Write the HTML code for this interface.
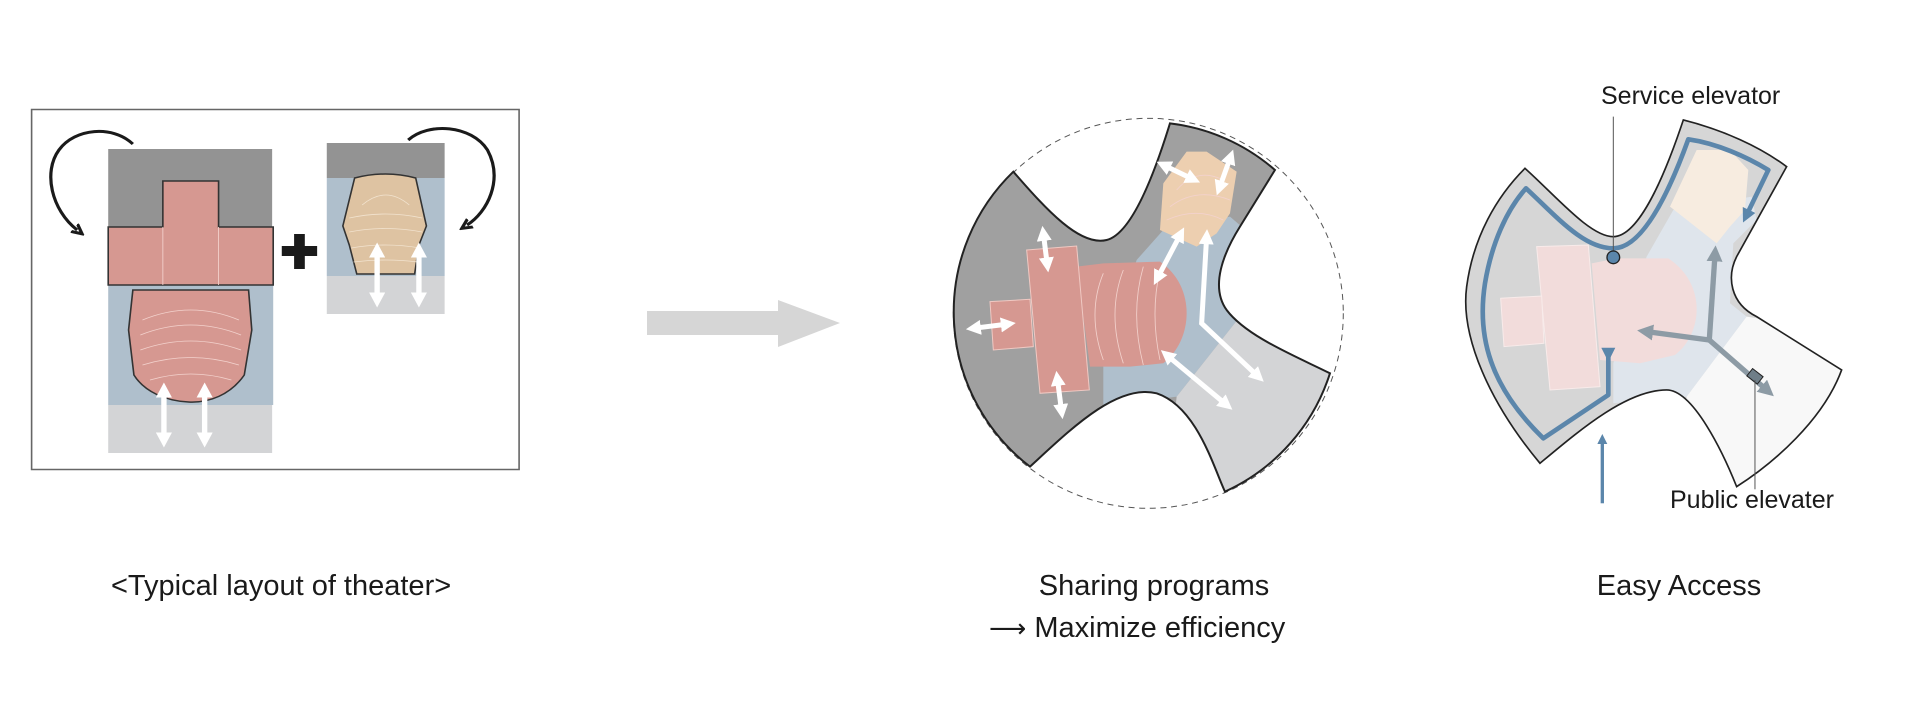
<!DOCTYPE html>
<html><head><meta charset="utf-8"><style>
html,body{margin:0;padding:0;background:#fff;}
svg{display:block;}
text{font-family:"Liberation Sans",sans-serif;fill:#1a1a1a;}
</style></head><body>
<svg width="1929" height="702" viewBox="0 0 1929 702" xmlns="http://www.w3.org/2000/svg">
<defs>
<marker id="wh" viewBox="0 0 10 10" refX="5" refY="5" markerWidth="3" markerHeight="3" orient="auto-start-reverse"><path d="M0,0 L10,5 L0,10 Z" fill="#fff"/></marker>
<marker id="bk" viewBox="0 0 10 10" refX="3" refY="5" markerWidth="4" markerHeight="4" orient="auto"><path d="M0,1 L8,5 L0,9" fill="none" stroke="#1a1a1a" stroke-width="2.5"/></marker>
<marker id="gh" viewBox="0 0 10 10" refX="4" refY="5" markerWidth="3" markerHeight="3" orient="auto"><path d="M0,0 L10,5 L0,10 Z" fill="#8d9ba5"/></marker>
<marker id="bh" viewBox="0 0 10 10" refX="4" refY="5" markerWidth="3" markerHeight="3" orient="auto"><path d="M0,0 L10,5 L0,10 Z" fill="#5b86ab"/></marker>
<clipPath id="cm"><path d="M250,215 C350,330 450,440 530,420 C610,400 680,200 720,70 A585,585 0 0 1 1035,210 L930,380 C880,460 840,560 890,630 C950,710 1100,770 1200,820 A585,585 0 0 1 885,1175 C850,1100 800,920 680,880 C560,850 420,990 300,1100 A585,585 0 0 1 250,215 Z"/></clipPath>
<clipPath id="cr"><path d="M300,1180 C150,1000 60,800 80,650 C100,500 170,380 255,295 C350,380 450,500 520,500 C600,500 680,300 730,150 C850,180 960,230 1040,290 L890,560 C860,620 870,700 950,740 L1205,900 C1150,1050 1000,1180 890,1250 C850,1150 760,960 680,960 C560,960 420,1080 300,1180 Z"/></clipPath>
</defs>

<!-- LEFT PANEL -->
<g transform="scale(1.0714,1)">
<rect x="29.5" y="109.5" width="455" height="360" fill="none" stroke="#666" stroke-width="1.5"/>
<rect x="101" y="149" width="153" height="78" fill="#939393"/>
<rect x="101" y="285" width="154" height="120" fill="#afbfcc"/>
<rect x="101" y="405" width="153" height="48" fill="#d3d4d6"/>
<path d="M152,181 H204 V227 H255 V285 H101 V227 H152 Z" fill="#d69891" stroke="#333" stroke-width="1.5"/>
<path d="M124,290 L232,290 L235,330 L228,375 C215,395 195,403 176,402 C155,401 135,392 125,375 L120,330 Z" fill="#d69891" stroke="#333" stroke-width="1.5"/>
<g stroke="#f3d2cd" stroke-width="0.8" fill="none">
<path d="M133,320 Q178,300 223,320"/><path d="M131,335 Q178,315 225,335"/><path d="M131,350 Q178,332 225,350"/><path d="M133,365 Q178,350 223,365"/><path d="M140,380 Q178,368 216,380"/>
<line x1="152" y1="227" x2="152" y2="285"/><line x1="204" y1="227" x2="204" y2="285"/>
</g>
<line x1="153" y1="390" x2="153" y2="440" stroke="#fff" stroke-width="5" marker-start="url(#wh)" marker-end="url(#wh)"/>
<line x1="191" y1="390" x2="191" y2="440" stroke="#fff" stroke-width="5" marker-start="url(#wh)" marker-end="url(#wh)"/>
<path d="M263,251 H296 M279.5,234 V269" stroke="#1a1a1a" stroke-width="10"/>
<rect x="305" y="143" width="110" height="35" fill="#939393"/>
<rect x="305" y="178" width="110" height="98" fill="#afbfcc"/>
<rect x="305" y="276" width="110" height="38" fill="#d3d4d6"/>
<path d="M331,178 Q360,170 388,178 L398,226 L391,245 L387,274 L333,274 L326,245 L320,226 Z" fill="#dec3a2" stroke="#333" stroke-width="1.5"/>
<g stroke="#f2e3cf" stroke-width="0.8" fill="none">
<path d="M338,205 Q360,185 382,205"/><path d="M326,218 Q360,210 394,218"/><path d="M326,232 Q360,225 394,232"/><path d="M328,248 Q360,242 392,248"/><path d="M330,262 Q360,258 390,262"/>
</g>
<line x1="352" y1="250" x2="352" y2="300" stroke="#fff" stroke-width="5" marker-start="url(#wh)" marker-end="url(#wh)"/>
<line x1="391" y1="250" x2="391" y2="300" stroke="#fff" stroke-width="5" marker-start="url(#wh)" marker-end="url(#wh)"/>
<path d="M124,144 C105,125 70,128 55,150 C40,172 48,210 72,230" fill="none" stroke="#1a1a1a" stroke-width="3" marker-end="url(#bk)"/>
<path d="M381,140 C400,122 440,125 455,150 C470,180 455,212 436,225" fill="none" stroke="#1a1a1a" stroke-width="3" marker-end="url(#bk)"/>
</g>
<text x="111" y="595" font-size="29">&lt;Typical layout of theater&gt;</text>

<!-- BIG ARROW -->
<path d="M647,311 H778 V300 L840,323 L778,347 V335 H647 Z" fill="#d6d6d6"/>

<!-- MIDDLE -->
<g transform="translate(930,100) scale(0.3333)">
<circle cx="655" cy="640" r="585" fill="none" stroke="#555" stroke-width="3" stroke-dasharray="18,14"/>
<g clip-path="url(#cm)">
<rect x="0" y="0" width="1400" height="1300" fill="#a0a0a0"/>
<polygon points="620,480 700,390 900,350 935,380 880,470 870,600 930,650 740,890 520,920 520,800" fill="#afbfcc"/>
<polygon points="930,650 1400,700 1400,1300 700,1300 740,890" fill="#d3d4d6"/>
</g>
<path d="M250,215 C350,330 450,440 530,420 C610,400 680,200 720,70 A585,585 0 0 1 1035,210 L930,380 C880,460 840,560 890,630 C950,710 1100,770 1200,820 A585,585 0 0 1 885,1175 C850,1100 800,920 680,880 C560,850 420,990 300,1100 A585,585 0 0 1 250,215 Z" fill="none" stroke="#222" stroke-width="6"/>
<polygon points="700,250 770,155 830,155 920,215 900,340 860,400 800,440 690,390" fill="#edcfb0"/>
<path d="M440,500 L520,490 L690,485 C800,560 790,720 700,790 L600,800 L480,800 Z" fill="#d69891"/>
<polygon points="290,450 440,438 478,870 330,880" fill="#d69891" stroke="#f0c9c3" stroke-width="3"/>
<polygon points="180,605 300,598 310,740 190,750" fill="#d69891" stroke="#f0c9c3" stroke-width="3"/>
<g stroke="#f3d2cd" stroke-width="2.5" fill="none">
<path d="M520,520 Q470,640 520,780"/><path d="M580,510 Q530,640 580,790"/><path d="M640,500 Q600,640 640,795"/><path d="M690,510 Q660,640 690,780"/>
<path d="M740,270 Q800,200 880,240"/><path d="M720,320 Q800,260 900,300"/><path d="M710,360 Q800,320 880,360"/>
</g>
<g stroke="#fff" stroke-width="15" marker-start="url(#wh)" marker-end="url(#wh)">
<line x1="340" y1="400" x2="352" y2="495"/>
<line x1="130" y1="685" x2="235" y2="672"/>
<line x1="382" y1="835" x2="395" y2="935"/>
<line x1="700" y1="195" x2="790" y2="238"/>
<line x1="902" y1="170" x2="868" y2="265"/>
<line x1="752" y1="402" x2="682" y2="535"/>
<line x1="710" y1="765" x2="890" y2="915"/>
</g>
<path d="M830,410 L815,670 L985,830" fill="none" stroke="#fff" stroke-width="15" marker-start="url(#wh)" marker-end="url(#wh)"/>
</g>
<text x="1154" y="595" font-size="29" text-anchor="middle">Sharing programs</text>
<text x="989" y="637" font-size="29"><tspan font-family="DejaVu Sans" font-size="26">⟶</tspan> Maximize efficiency</text>

<!-- RIGHT -->
<g transform="translate(1440,70) scale(0.3333)">
<g clip-path="url(#cr)">
<rect x="0" y="0" width="1300" height="1300" fill="#d6d6d6"/>
<polygon points="620,560 700,420 935,380 950,450 880,520 870,700 920,740 740,980 520,1000 520,880" fill="#dfe5ec"/>
<polygon points="920,740 1300,800 1300,1300 700,1300 740,980" fill="#f8f8f8"/>
</g>
<path d="M300,1180 C150,1000 60,800 80,650 C100,500 170,380 255,295 C350,380 450,500 520,500 C600,500 680,300 730,150 C850,180 960,230 1040,290 L890,560 C860,620 870,700 950,740 L1205,900 C1150,1050 1000,1180 890,1250 C850,1150 760,960 680,960 C560,960 420,1080 300,1180 Z" fill="none" stroke="#222" stroke-width="5"/>
<polygon points="690,410 770,240 870,240 925,300 915,420 870,470 830,520" fill="#f7ece0"/>
<path d="M455,580 L530,565 L685,565 C800,640 790,790 705,855 L600,880 L480,870 Z" fill="#f2dcdb"/>
<polygon points="290,530 445,525 480,950 330,960" fill="#f2dcdb" stroke="#f8ebea" stroke-width="3"/>
<polygon points="182,685 305,678 312,820 192,830" fill="#f2dcdb" stroke="#f8ebea" stroke-width="3"/>
<path d="M505,850 L505,975 L310,1105 C150,950 110,800 135,640 C155,520 200,420 258,355 C350,440 430,535 520,535 C610,535 690,360 745,208 C830,220 920,260 985,300 L920,435" fill="none" stroke="#5b86ab" stroke-width="14" stroke-linejoin="round" marker-start="url(#bh)" marker-end="url(#bh)"/>
<line x1="487" y1="1300" x2="487" y2="1110" stroke="#5b86ab" stroke-width="10" marker-end="url(#bh)"/>
<g stroke="#8d9ba5" stroke-width="16" fill="none">
<path d="M808,810 L825,555" marker-end="url(#gh)"/>
<path d="M808,810 L620,785" marker-end="url(#gh)"/>
<path d="M808,810 L980,960" marker-end="url(#gh)"/>
</g>
<rect x="925" y="905" width="40" height="28" transform="rotate(38 945 919)" fill="#6f7e88" stroke="#222" stroke-width="3"/>
<line x1="520" y1="140" x2="520" y2="545" stroke="#555" stroke-width="3"/>
<line x1="945" y1="930" x2="945" y2="1258" stroke="#555" stroke-width="3"/>
<circle cx="520" cy="562" r="19" fill="#5b86ab" stroke="#222" stroke-width="4"/>
</g>
<text x="1601" y="104" font-size="25">Service elevator</text>
<text x="1670" y="508" font-size="25">Public elevater</text>
<text x="1679" y="595" font-size="29" text-anchor="middle">Easy Access</text>
</svg>
</body></html>
